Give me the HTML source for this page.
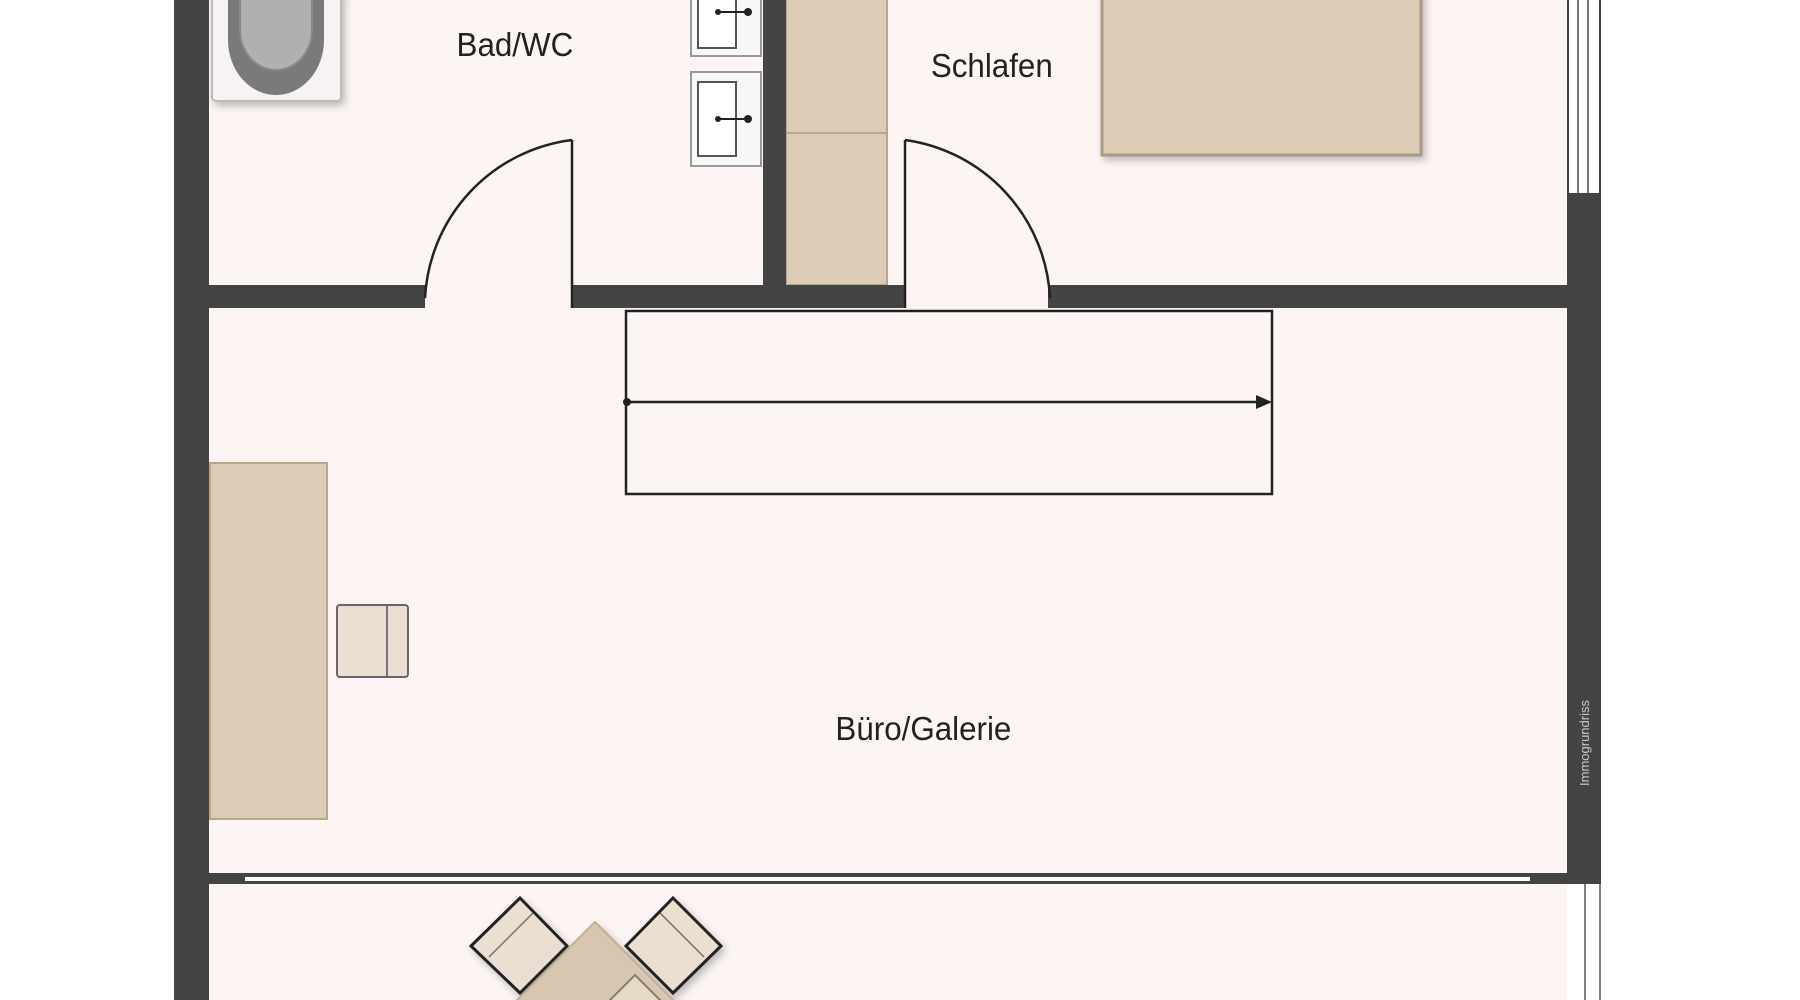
<!DOCTYPE html>
<html><head><meta charset="utf-8"><style>
html,body{margin:0;padding:0;background:#fff;width:1800px;height:1000px;overflow:hidden;}
svg{display:block;overflow:hidden;}
</style></head><body>
<svg width="1800" height="1000" viewBox="0 0 1800 1000" xmlns="http://www.w3.org/2000/svg">
<defs>
<filter id="sh" x="-20%" y="-20%" width="140%" height="140%"><feDropShadow dx="3" dy="4" stdDeviation="4" flood-color="#000" flood-opacity="0.25"/></filter>
<clipPath id="cp"><rect x="0" y="0" width="1800" height="1000"/></clipPath>
</defs>
<g clip-path="url(#cp)">
<rect x="209" y="0" width="1358" height="1000" fill="#fcf5f4"/>
<rect x="212" y="-10" width="129" height="111" rx="4" fill="#f6f3f2" stroke="#bbb" stroke-width="2" filter="url(#sh)"/>
<path d="M228 -10 V40 A48 55 0 0 0 324 40 V-10 Z" fill="#7a7a7a"/>
<path d="M240 -10 V30 A36 40 0 0 0 312 30 V-10 Z" fill="#b0b0b0" stroke="#888" stroke-width="2"/>
<rect x="691" y="-5" width="70" height="61" fill="#f8f8f8" stroke="#999" stroke-width="2"/>
<rect x="698" y="-5" width="38" height="53" fill="#fff" stroke="#555" stroke-width="2"/>
<line x1="718" y1="12" x2="746" y2="12" stroke="#222" stroke-width="2"/><circle cx="718" cy="12" r="3" fill="#222"/><circle cx="748" cy="12" r="4" fill="#222"/>
<rect x="691" y="72" width="70" height="94" fill="#f8f8f8" stroke="#999" stroke-width="2"/>
<rect x="698" y="82" width="38" height="74" fill="#fff" stroke="#555" stroke-width="2"/>
<line x1="718" y1="119" x2="746" y2="119" stroke="#222" stroke-width="2"/><circle cx="718" cy="119" r="3" fill="#222"/><circle cx="748" cy="119" r="4" fill="#222"/>
<rect x="786" y="-5" width="101" height="138" fill="#dccbb5" stroke="#b8a58c" stroke-width="2"/>
<rect x="786" y="133" width="101" height="152" fill="#dccbb5" stroke="#b8a58c" stroke-width="2"/>
<rect x="1102" y="-10" width="319" height="165" fill="#dccbb5" stroke="#a99a88" stroke-width="3" filter="url(#sh)"/>
<rect x="210" y="463" width="117" height="356" fill="#dccbb5" stroke="#b8a58c" stroke-width="2"/>
<rect x="337" y="605" width="71" height="72" rx="3" fill="#eadfd1" stroke="#666" stroke-width="2"/>
<line x1="387" y1="606" x2="387" y2="676" stroke="#777" stroke-width="2"/>
<rect x="626" y="311" width="646" height="183" fill="none" stroke="#222" stroke-width="2.5"/>
<line x1="626" y1="402" x2="1260" y2="402" stroke="#222" stroke-width="2.5"/>
<circle cx="627" cy="402" r="4" fill="#222"/>
<polygon points="1272,402 1256,395 1256,409" fill="#222"/>
<g filter="url(#sh)">
<polygon points="595,922 700,1027 595,1132 490,1027" fill="#d8c7b0" stroke="#c0ad95" stroke-width="2"/>
<polygon points="635,975 700,1040 635,1105 570,1040" fill="#e6dac9" stroke="#8a7d6e" stroke-width="2"/>
<polygon points="520,898 567,946 520,993 471,946" fill="#eadfd1" stroke="#222" stroke-width="3"/>
<polygon points="673,898 721,946 673,993 626,946" fill="#eadfd1" stroke="#222" stroke-width="3"/>
</g>
<line x1="533" y1="913" x2="489" y2="957" stroke="#7a6e60" stroke-width="1.5"/>
<line x1="660" y1="913" x2="704" y2="957" stroke="#7a6e60" stroke-width="1.5"/>
<g fill="#444">
<rect x="174" y="0" width="35" height="1000"/>
<rect x="1567" y="193" width="34" height="691"/>
<rect x="209" y="285" width="216" height="23"/>
<rect x="572" y="285" width="333" height="23"/>
<rect x="1048" y="285" width="519" height="23"/>
<rect x="763" y="0" width="23" height="308"/>
<rect x="174" y="873" width="1427" height="11"/>
</g>
<rect x="245" y="877" width="1285" height="4" fill="#fff"/>
<rect x="1567" y="0" width="34" height="193" fill="#fff"/>
<line x1="1568" y1="0" x2="1568" y2="193" stroke="#444" stroke-width="2"/>
<line x1="1578" y1="0" x2="1578" y2="193" stroke="#444" stroke-width="1.5"/>
<line x1="1588" y1="0" x2="1588" y2="193" stroke="#444" stroke-width="1.5"/>
<line x1="1600" y1="0" x2="1600" y2="193" stroke="#444" stroke-width="2"/>
<line x1="1585" y1="884" x2="1585" y2="1000" stroke="#555" stroke-width="1.5"/>
<line x1="1600" y1="884" x2="1600" y2="1000" stroke="#555" stroke-width="1.5"/>
<g fill="none" stroke="#222" stroke-width="2.5">
<line x1="572" y1="140" x2="572" y2="308"/>
<path d="M572 140 A168 168 0 0 0 425 298"/>
<line x1="905" y1="140" x2="905" y2="308"/>
<path d="M905 140 A168 168 0 0 1 1050 298"/>
</g>
<g font-family="Liberation Sans, sans-serif" font-size="33" fill="#222" text-anchor="middle" transform="scale(0.95,1)">
<text x="542" y="56">Bad/WC</text>
<text x="1044" y="77">Schlafen</text>
<text x="972" y="740">Büro/Galerie</text>
</g>
<text x="0" y="0" transform="translate(1589,743) rotate(-90)" font-family="Liberation Sans, sans-serif" font-size="13" fill="#c8c8c8" text-anchor="middle">Immogrundriss</text>
</g>
</svg>
</body></html>
